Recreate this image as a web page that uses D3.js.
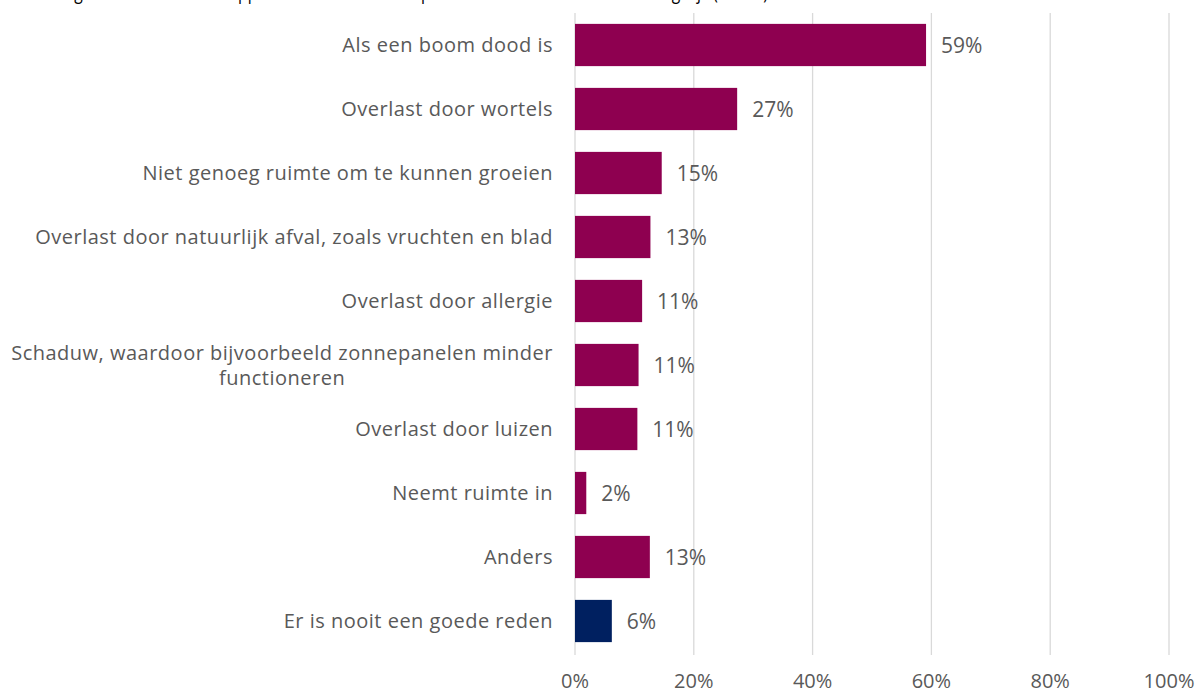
<!DOCTYPE html>
<html>
<head>
<meta charset="utf-8">
<script src="https://cdn.jsdelivr.net/npm/d3@7"></script>
<style>
  body { margin: 0; background: #fff; }
  text { font-family: "Open Sans", sans-serif; fill: #595959; }
</style>
</head>
<body>
<script>
const width = 1196;
const height = 694;

const titleText = "In welke gevallen vindt u het kappen van een boom acceptabel? Meerdere antwoorden mogelijk (n=650)";
const categories = [
  "Als een boom dood is",
  "Overlast door wortels",
  "Niet genoeg ruimte om te kunnen groeien",
  "Overlast door natuurlijk afval, zoals vruchten en blad",
  "Overlast door allergie",
  "Schaduw, waardoor bijvoorbeeld zonnepanelen minder|functioneren",
  "Overlast door luizen",
  "Neemt ruimte in",
  "Anders",
  "Er is nooit een goede reden"
];
const values = [59.1, 27.3, 14.6, 12.7, 11.3, 10.7, 10.5, 1.9, 12.6, 6.2];
const labels = ["59%", "27%", "15%", "13%", "11%", "11%", "11%", "2%", "13%", "6%"];
const ticks = [0, 20, 40, 60, 80, 100];

const svg = d3.select("body").append("svg")
  .attr("width", width)
  .attr("height", height);

const x = d3.scaleLinear().domain([0, 100]).range([575, 1169]);
const y = d3.scaleBand().domain(categories).range([13, 653]).paddingInner(0.34).paddingOuter(0.17);

// title, cut off at the top like in the original
svg.append("text")
  .attr("x", 10)
  .attr("y", -1)
  .attr("font-size", 20)
  .attr("textLength", 758)
  .attr("lengthAdjust", "spacingAndGlyphs")
  .style("fill", "#000")
  .text(titleText);

// gridlines
svg.selectAll(".grid")
  .data(ticks)
  .join("line")
  .attr("class", "grid")
  .attr("x1", d => x(d))
  .attr("x2", d => x(d))
  .attr("y1", 13)
  .attr("y2", 655)
  .attr("stroke", "#d9d9d9")
  .attr("stroke-width", 1.3);

svg.selectAll(".tick")
  .data(ticks)
  .join("text")
  .attr("class", "tick")
  .attr("x", d => x(d))
  .attr("y", 688)
  .attr("text-anchor", "middle")
  .attr("font-size", 20)
  .text(d => d + "%");

// bars
svg.selectAll(".bar")
  .data(categories)
  .join("rect")
  .attr("class", "bar")
  .attr("x", x(0))
  .attr("y", d => y(d))
  .attr("width", (d, i) => x(values[i]) - x(0))
  .attr("height", y.bandwidth())
  .attr("fill", (d, i) => i === categories.length - 1 ? "#002060" : "#8e0050");

svg.selectAll(".val")
  .data(categories)
  .join("text")
  .attr("class", "val")
  .attr("x", (d, i) => x(values[i]) + 15)
  .attr("y", d => y(d) + y.bandwidth() / 2)
  .attr("dy", "0.36em")
  .attr("font-size", 21)
  .text((d, i) => labels[i]);

// category labels
const catG = svg.selectAll(".cat")
  .data(categories)
  .join("text")
  .attr("class", "cat")
  .attr("font-size", 20)
  .attr("letter-spacing", 0.5);

catG.each(function(d) {
  const t = d3.select(this);
  const lines = d.split("|");
  const cy = y(d) + y.bandwidth() / 2;
  const lh = 25;
  const spans = lines.map((l, k) => t.append("tspan")
    .attr("y", cy + (k - (lines.length - 1) / 2) * lh)
    .attr("dy", "0.35em")
    .text(l));
  const maxW = d3.max(spans, s => s.node().getComputedTextLength());
  spans.forEach(s => s.attr("x", 553 - maxW / 2));
  t.attr("text-anchor", "middle");
});
</script>
</body>
</html>
